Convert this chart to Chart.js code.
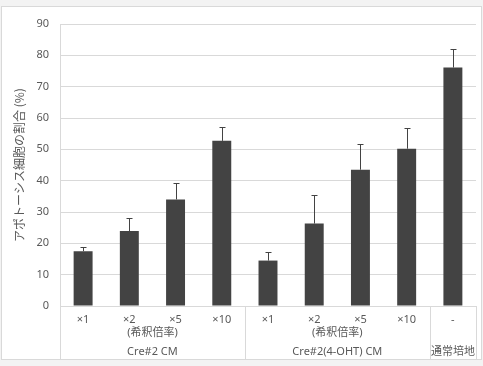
<!DOCTYPE html>
<html>
<head>
<meta charset="utf-8">
<script src="https://cdn.jsdelivr.net/npm/chart.js@4"></script>
<style>
  html, body { margin: 0; padding: 0; background: #f3f3f3; }
  #wrap { width: 483px; height: 366px; }
</style>
</head>
<body>
<div id="wrap"><canvas id="chart" width="483" height="366"></canvas></div>
<script>
// data
var labels = ['×1', '×2', '×5', '×10', '×1', '×2', '×5', '×10', '-'];
var values = [17.5, 23.9, 34.0, 52.7, 14.5, 26.3, 43.5, 50.2, 76.1];
var errors = [1.3, 4.2, 5.1, 4.5, 2.7, 9.1, 8.2, 6.6, 5.8];
var groupNames = ['Cre#2 CM', 'Cre#2(4-OHT) CM', '通常培地'];
var groupSizes = [4, 4, 1];
var subLabel = '(希釈倍率)';
var yTitle = 'アポトーシス細胞の割合 (%)';

var fontFam = "'Noto Sans', 'Noto Sans CJK JP', sans-serif";
var textColor = '#595959';
var lineColor = '#d9d9d9';
var barColor = '#434343';

var extras = {
  id: 'extras',
  beforeDraw: function(chart) {
    var ctx = chart.ctx;
    ctx.save();
    ctx.fillStyle = '#ffffff';
    ctx.fillRect(1, 6, 481, 353);
    ctx.strokeStyle = lineColor;
    ctx.lineWidth = 1;
    ctx.strokeRect(1.5, 6.5, 480, 353);
    ctx.restore();
  },
  afterDatasetsDraw: function(chart) {
    var ctx = chart.ctx;
    var x = chart.scales.x, y = chart.scales.y;
    ctx.save();
    // error bars (upper only)
    ctx.strokeStyle = barColor;
    ctx.lineWidth = 1;
    values.forEach(function(v, i) {
      var px = Math.round(x.getPixelForValue(i)) + 0.5;
      var y0 = y.getPixelForValue(v);
      var y1 = Math.round(y.getPixelForValue(v + errors[i])) + 0.5;
      ctx.beginPath();
      ctx.moveTo(px, y0);
      ctx.lineTo(px, y1);
      ctx.moveTo(px - 3, y1);
      ctx.lineTo(px + 3, y1);
      ctx.stroke();
    });

    // group separators and labels under the axis
    var half = (x.getPixelForValue(1) - x.getPixelForValue(0)) / 2;
    var bottom = 359;
    ctx.strokeStyle = lineColor;
    ctx.fillStyle = textColor;
    ctx.textAlign = 'center';
    ctx.textBaseline = 'middle';
    ctx.font = '11px ' + fontFam;
    var start = 0;
    var edges = [x.getPixelForValue(0) - half];
    groupSizes.forEach(function(n, g) {
      var first = x.getPixelForValue(start);
      var last = x.getPixelForValue(start + n - 1);
      var mid = (first + last) / 2;
      edges.push(last + half);
      if (n > 1) {
        ctx.fillText(subLabel, mid, 333);
      }
      ctx.fillText(groupNames[g], mid, 352);
      start += n;
    });
    edges.forEach(function(ex) {
      var px = Math.round(ex) + 0.5;
      ctx.beginPath();
      ctx.moveTo(px, y.bottom);
      ctx.lineTo(px, bottom);
      ctx.stroke();
    });
    ctx.restore();
  }
};

new Chart(document.getElementById('chart').getContext('2d'), {
  type: 'bar',
  data: {
    labels: labels,
    datasets: [{
      data: values,
      backgroundColor: barColor,
      barPercentage: 0.41,
      categoryPercentage: 1
    }]
  },
  options: {
    responsive: false,
    animation: false,
    layout: { padding: { top: 24, right: 7, left: 0, bottom: 0 } },
    plugins: { legend: { display: false }, tooltip: { enabled: false } },
    scales: {
      x: {
        grid: { display: false },
        border: { display: true, color: lineColor },
        ticks: { color: textColor, font: { family: fontFam, size: 11 }, padding: -1, maxRotation: 0 },
        afterFit: function(s) { s.height = 60; }
      },
      y: {
        min: 0,
        max: 90,
        ticks: { stepSize: 10, color: textColor, font: { family: fontFam, size: 11 }, padding: 11 },
        grid: { color: lineColor, drawTicks: false },
        border: { display: true, color: lineColor },
        title: {
          display: true,
          text: yTitle,
          color: textColor,
          font: { family: "'Noto Sans CJK JP', sans-serif", size: 12 },
          padding: { top: 12, bottom: 0 }
        },
        afterFit: function(s) { s.width = 60; }
      }
    }
  },
  plugins: [extras]
});
</script>
</body>
</html>
